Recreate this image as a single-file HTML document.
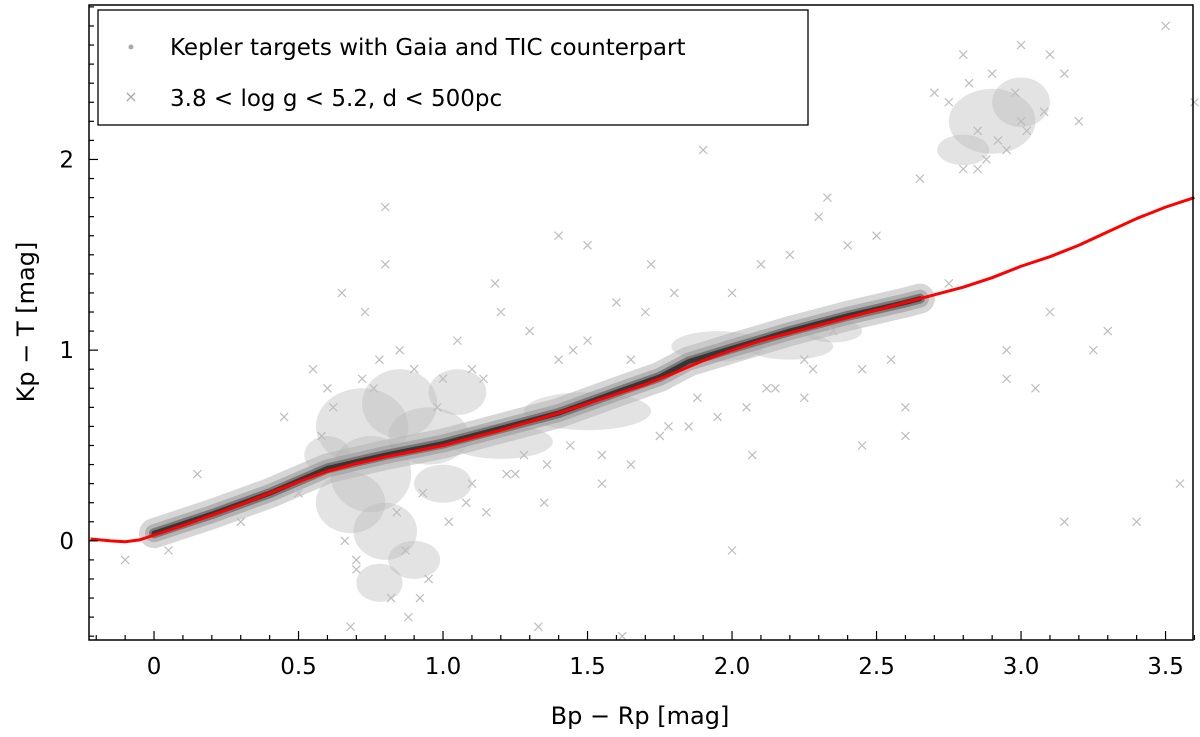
<!DOCTYPE html>
<html><head><meta charset="utf-8">
<style>
html,body{margin:0;padding:0;background:#fff;}
svg text{font-family:"DejaVu Sans","Liberation Sans",sans-serif;fill:#000;}
</style></head>
<body>
<svg id="chart" width="1200" height="732" viewBox="0 0 1200 732" xmlns="http://www.w3.org/2000/svg">
<g id="layer-cloud"></g>
<g id="layer-band"></g>
<g id="layer-marks"></g>
<g id="layer-curve"></g>
<rect x="89" y="5" width="1104" height="635" fill="none" stroke="#000" stroke-width="1.5"/>
<g id="layer-axes"></g>
<text x="640" y="724" font-size="24" text-anchor="middle">Bp − Rp [mag]</text>
<text transform="translate(34,322) rotate(-90)" font-size="24" text-anchor="middle">Kp − T [mag]</text>
<g>
<rect x="98" y="10" width="710" height="115" fill="#fff" stroke="#000" stroke-width="1.3"/>
<circle cx="131" cy="47" r="2.5" fill="#aaa"/>
<text x="170" y="55" font-size="23">Kepler targets with Gaia and TIC counterpart</text>
<text x="131" y="102" font-size="16" text-anchor="middle" style="fill:#aaa">×</text>
<text x="170" y="106" font-size="23">3.8 &lt; log g &lt; 5.2, d &lt; 500pc</text>
</g>
</svg>
<script>
const curveX=[-0.22,-0.15,-0.1,-0.05,0,0.1,0.2,0.3,0.4,0.5,0.6,0.7,0.8,0.9,1.0,1.1,1.2,1.3,1.4,1.5,1.6,1.7,1.8,1.9,2.0,2.1,2.2,2.3,2.4,2.5,2.6,2.7,2.8,2.9,3.0,3.1,3.2,3.3,3.4,3.5,3.6];
const curveY=[0.01,0.0,-0.005,0.005,0.03,0.08,0.135,0.19,0.25,0.31,0.365,0.405,0.44,0.47,0.5,0.54,0.58,0.625,0.67,0.72,0.77,0.82,0.88,0.945,1.0,1.05,1.09,1.13,1.17,1.21,1.25,1.29,1.33,1.38,1.44,1.49,1.55,1.62,1.69,1.75,1.80];
const bandX=[0.0,0.2,0.4,0.6,0.8,1.0,1.2,1.4,1.6,1.75,1.85,2.0,2.2,2.4,2.6,2.65];
const bandY=[0.04,0.14,0.25,0.38,0.45,0.51,0.59,0.67,0.78,0.86,0.94,1.01,1.1,1.18,1.25,1.27];
const blobX=[0.72,0.85,0.95,0.68,0.8,0.9,1.2,1.5,1.95,2.2,2.9,2.8,3.0,1.05,0.78,0.6,1.0,0.75,2.35];
const blobY=[0.6,0.72,0.55,0.2,0.05,-0.1,0.52,0.68,1.02,1.02,2.2,2.05,2.3,0.78,-0.22,0.45,0.3,0.35,1.1];
const blobRX=[0.16,0.13,0.14,0.12,0.11,0.09,0.18,0.22,0.16,0.15,0.15,0.09,0.1,0.1,0.08,0.08,0.1,0.14,0.1];
const blobRY=[0.2,0.18,0.15,0.16,0.15,0.1,0.09,0.1,0.08,0.07,0.17,0.08,0.13,0.12,0.1,0.1,0.1,0.2,0.06];
const markX=[-0.1,0.05,0.15,0.3,0.45,0.55,0.6,0.65,0.7,0.72,0.78,0.8,0.82,0.85,0.88,0.9,0.95,1.0,1.05,1.1,1.15,1.2,1.25,1.3,1.35,1.4,1.45,1.5,1.55,1.6,1.65,1.7,1.75,1.8,1.85,1.9,1.95,2.0,2.05,2.1,2.15,2.2,2.25,2.3,2.35,2.4,2.45,2.5,2.55,2.6,2.65,2.7,2.75,2.8,2.85,2.9,2.95,3.0,3.05,3.1,3.15,3.2,3.3,3.4,3.5,3.55,3.6,0.68,0.92,1.33,1.62,2.07,2.6,2.95,3.1,3.25,0.73,0.8,1.18,1.4,1.72,2.33,2.45,2.8,3.0,3.15,1.5,0.5,2.25,1.1,2.0,0.62,0.66,0.76,0.84,0.98,1.02,1.08,1.14,1.22,1.28,1.36,1.44,0.58,0.7,0.87,0.93,2.75,2.82,2.88,2.92,2.98,3.02,3.08,2.85,2.95,1.55,1.65,1.78,1.88,2.12,2.28];
const markY=[-0.1,-0.05,0.35,0.1,0.65,0.9,0.8,1.3,-0.15,0.85,0.95,1.75,-0.3,1.0,-0.4,0.9,-0.2,0.85,1.05,0.9,0.15,1.2,0.35,1.1,0.2,0.95,1.0,1.55,0.3,1.25,0.4,1.2,0.55,1.3,0.6,2.05,0.65,1.3,0.7,1.45,0.8,1.5,0.75,1.7,1.1,1.55,0.9,1.6,0.95,0.7,1.9,2.35,1.35,2.55,2.15,2.45,1.0,2.6,0.8,2.55,0.1,2.2,1.1,0.1,2.7,0.3,2.3,-0.45,-0.3,-0.45,-0.5,0.45,0.55,0.85,1.2,1.0,1.2,1.45,1.35,1.6,1.45,1.8,0.5,1.95,2.2,2.45,1.05,0.25,0.95,0.3,-0.05,0.7,0.0,0.8,0.15,0.7,0.1,0.2,0.85,0.35,0.45,0.4,0.5,0.55,-0.1,-0.05,0.25,2.3,2.4,2.0,2.1,2.35,2.15,2.25,1.95,2.05,0.45,0.95,0.6,0.75,0.8,0.9];
const xTicks=[0,0.5,1.0,1.5,2.0,2.5,3.0,3.5];
const xTickLabels=["0","0.5","1.0","1.5","2.0","2.5","3.0","3.5"];
const yTicks=[0,1,2];
const yTickLabels=["0","1","2"];

const NS="http://www.w3.org/2000/svg";
const X0=-0.225,X1=3.595,Y0=-0.52,Y1=2.81;
const PL=89,PR=1193,PT=5,PB=640;
function sx(v){return PL+(v-X0)/(X1-X0)*(PR-PL);}
function sy(v){return PB-(v-Y0)/(Y1-Y0)*(PB-PT);}
function mk(tag,attrs,parent){const e=document.createElementNS(NS,tag);for(const k in attrs)e.setAttribute(k,attrs[k]);parent.appendChild(e);return e;}

const cloud=document.getElementById('layer-cloud');
for(let i=0;i<blobX.length;i++){
  const e=mk('ellipse',{cx:sx(blobX[i]),cy:sy(blobY[i]),rx:blobRX[i]*(PR-PL)/(X1-X0),ry:blobRY[i]*(PB-PT)/(Y1-Y0),fill:'#b8b8b8','fill-opacity':0.4},cloud);
  
  
}
const band=document.getElementById('layer-band');
const bandPts=bandX.map((v,i)=>sx(v)+','+sy(bandY[i])).join(' ');
[[30,'#b5b5b5',0.55],[18,'#999',0.6],[10,'#666',0.75],[5,'#2a2a2a',0.85]].forEach(s=>{
  const e=mk('polyline',{points:bandPts,fill:'none',stroke:s[1],'stroke-width':s[0],'stroke-opacity':s[2],'stroke-linecap':'round','stroke-linejoin':'round'},band);
  
  
});
const marks=document.getElementById('layer-marks');
for(let i=0;i<markX.length;i++){
  const cx=sx(markX[i]),cy=sy(markY[i]),r=4;
  const e=mk('path',{d:`M${cx-r},${cy-r}L${cx+r},${cy+r}M${cx-r},${cy+r}L${cx+r},${cy-r}`,stroke:'#bdbdbd','stroke-width':1.2,fill:'none'},marks);
  
  
}
const cl=document.getElementById('layer-curve');
const c=mk('polyline',{points:curveX.map((v,i)=>sx(v)+','+sy(curveY[i])).join(' '),fill:'none',stroke:'#f00','stroke-width':3,'stroke-linejoin':'round'},cl);



const ax=document.getElementById('layer-axes');
for(let k=-2;k<=36;k++){
  const v=k/10;const px=sx(v);const major=(k%5===0);
  const L=major?9:5;
  const t=mk('line',{x1:px,x2:px,y1:PB,y2:PB-L,stroke:'#000','stroke-width':1.2},ax);
  
  
}
for(let k=-5;k<=28;k++){
  const v=k/10;const py=sy(v);const major=(k%10===0);
  const L=major?9:5;
  const t=mk('line',{x1:PL,x2:PL+L,y1:py,y2:py,stroke:'#000','stroke-width':1.2},ax);
  
  
}
xTicks.forEach((v,i)=>{
  const t=mk('text',{x:sx(v),y:674,'font-size':23,'text-anchor':'middle'},ax);
  t.textContent=xTickLabels[i];
  
  
});
yTicks.forEach((v,i)=>{
  const t=mk('text',{x:74,y:sy(v)+8,'font-size':23,'text-anchor':'end'},ax);
  t.textContent=yTickLabels[i];
  
  
});
</script>
</body></html>
